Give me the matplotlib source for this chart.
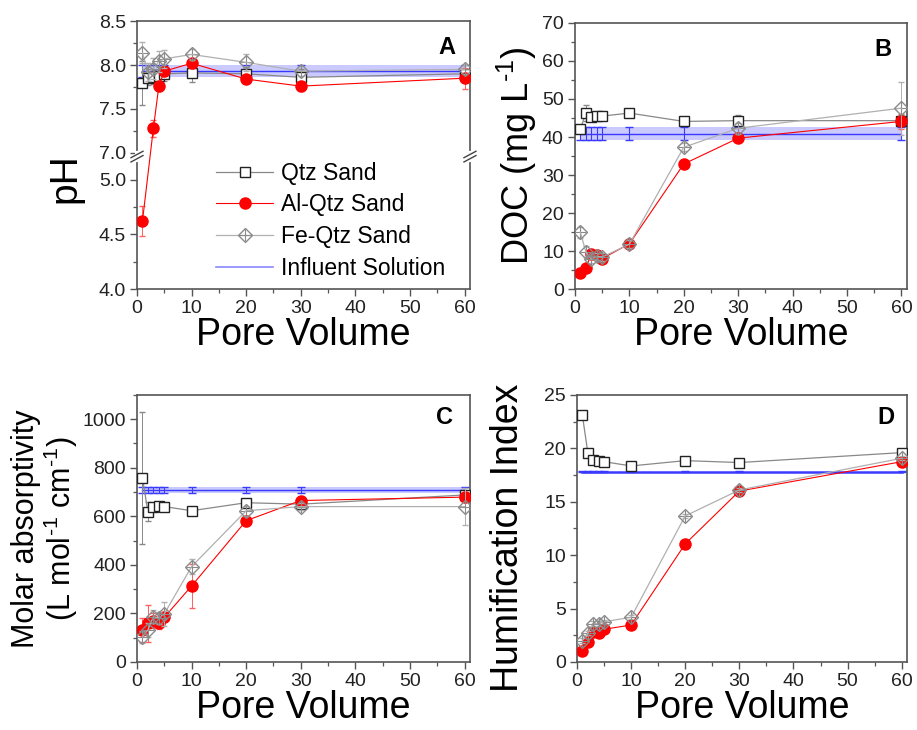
import matplotlib
matplotlib.use("Agg")
import matplotlib.pyplot as plt
import numpy as np
from matplotlib.lines import Line2D
from matplotlib.ticker import MultipleLocator, FixedLocator, FormatStrFormatter

plt.rcParams.update({
    "font.family": ["Liberation Sans", "DejaVu Sans"],
    "mathtext.fontset": "custom",
    "mathtext.rm": "Liberation Sans",
    "mathtext.it": "Liberation Sans",
    "axes.edgecolor": "#555555",
    "axes.linewidth": 1.2,
    "xtick.direction": "out",
    "ytick.direction": "out",
    "xtick.color": "#555555",
    "ytick.color": "#555555",
    "xtick.labelcolor": "#222222",
    "ytick.labelcolor": "#222222",
})

# pore volumes sampled
pv = [1, 2, 3, 4, 5, 10, 20, 30, 60]
pv_al_ph = [1, 3, 4, 5, 10, 20, 30, 60]

# A: pH
ph_qtz = [7.79, 7.85, 7.86, 7.88, 7.90, 7.91, 7.90, 7.86, 7.90]
ph_qtz_err = [0.25, 0.08, 0.08, 0.10, 0.08, 0.10, 0.08, 0.10, 0.06]
ph_al = [4.62, 7.28, 7.76, 7.93, 8.02, 7.84, 7.76, 7.85]
ph_al_err = [0.14, 0.10, 0.05, 0.05, 0.05, 0.05, 0.05, 0.12]
ph_fe = [8.14, 7.92, 7.96, 8.04, 8.07, 8.12, 8.03, 7.93, 7.95]
ph_fe_err = [0.12, 0.10, 0.12, 0.12, 0.10, 0.06, 0.10, 0.06, 0.05]
ph_inf, ph_inf_err = 7.93, 0.07

# B: DOC (mg/L)
doc_qtz = [42.1, 46.3, 45.2, 45.4, 45.5, 46.3, 44.1, 44.3, 44.3]
doc_qtz_err = [1.0, 2.2, 1.0, 1.0, 0.8, 0.8, 0.8, 1.5, 1.5]
doc_al = [4.3, 5.4, 9.3, 8.9, 8.0, 11.9, 32.9, 39.7, 44.1]
doc_al_err = [1.2, 0.8, 0.8, 0.8, 0.8, 0.8, 0.8, 0.8, 2.0]
doc_fe = [14.9, 9.8, 7.8, 8.6, 8.4, 11.8, 37.3, 42.3, 47.6]
doc_fe_err = [1.5, 1.5, 1.0, 1.0, 1.0, 1.0, 1.0, 1.5, 7.0]
doc_inf, doc_inf_err = 40.8, 1.7

# C: molar absorptivity
ma_qtz = [757, 619, 640, 641, 640, 623, 656, 650, 688]
ma_qtz_err = [272, 40, 15, 15, 15, 15, 15, 15, 15]
ma_al = [133, 159, 170, 159, 184, 313, 582, 665, 679]
ma_al_err = [50, 75, 30, 25, 20, 90, 20, 15, 20]
ma_fe = [104, 132, 187, 182, 198, 393, 623, 640, 640]
ma_fe_err = [25, 30, 25, 25, 50, 30, 20, 15, 75]
ma_inf, ma_inf_err = 710, 12

# D: humification index
hix_qtz = [23.1, 19.6, 18.9, 18.8, 18.75, 18.35, 18.85, 18.67, 19.6]
hix_al = [1.06, 1.9, 2.84, 2.69, 3.06, 3.46, 11.05, 16.0, 18.75]
hix_fe = [2.0, 2.7, 3.6, 3.6, 3.77, 4.18, 13.67, 16.1, 19.07]
hix_err = [0.2, 0.2, 0.2, 0.2, 0.2, 0.2, 0.2, 0.2, 0.2]
hix_inf, hix_inf_err = 17.82, 0.05

QTZ_M, QTZ_L = "#222222", "#888888"
AL_C = "#ff0000"
FE_M, FE_L = "#8a8a8a", "#b0b0b0"
INF_C, INF_BAND = "#3a3aff", "#b4b4ff"

fig = plt.figure(figsize=(9.17, 7.3), dpi=100)
axA = fig.add_axes([0.1494, 0.6041, 0.3631, 0.3671])
axB = fig.add_axes([0.6270, 0.6041, 0.3620, 0.3644])
axC = fig.add_axes([0.1494, 0.0932, 0.3631, 0.3658])
axD = fig.add_axes([0.6292, 0.0932, 0.3600, 0.3658])

# broken pH axis as a piecewise linear scale
yd = [4.0, 5.2, 6.97, 8.5]
yf = [0.0, 131.4, 133.4, 268.0]
axA.set_yscale("function", functions=(lambda y: np.interp(y, yd, yf),
                                       lambda f: np.interp(f, yf, yd)))


def draw(ax, q, qe, a, ae, f, fe, inf, infe, xa=pv, band=True, inf_lw=1.0):
    if band:
        ax.fill_between([1, 60], inf - infe, inf + infe, color=INF_BAND,
                        alpha=0.7, lw=0, zorder=1)
    ax.errorbar(pv, [inf] * len(pv), yerr=infe, color=INF_C, lw=inf_lw,
                elinewidth=0.8, capsize=3, zorder=2)
    ax.errorbar(pv, q, yerr=qe, color=QTZ_L, lw=0.9, marker="s", ms=7,
                mfc="white", mec=QTZ_M, mew=1.0, ecolor=QTZ_L,
                elinewidth=0.7, capsize=2.5, zorder=3)
    ax.errorbar(xa, a, yerr=ae, color=AL_C, lw=0.8, marker="o", ms=8,
                mfc=AL_C, mec=AL_C, ecolor="#ff6060",
                elinewidth=0.7, capsize=2.5, zorder=4)
    ax.errorbar(pv, f, yerr=fe, color=FE_L, lw=0.9, marker="D", ms=7,
                mfc="none", mec=FE_M, mew=1.0, ecolor=FE_L,
                elinewidth=0.7, capsize=2.5, zorder=5)
    ax.plot(pv, f, ls="none", marker="+", ms=9, mec=FE_M, mew=0.8, zorder=5)


draw(axA, ph_qtz, ph_qtz_err, ph_al, ph_al_err, ph_fe, ph_fe_err,
     ph_inf, ph_inf_err, xa=pv_al_ph)
draw(axB, doc_qtz, doc_qtz_err, doc_al, doc_al_err, doc_fe, doc_fe_err,
     doc_inf, doc_inf_err)
draw(axC, ma_qtz, ma_qtz_err, ma_al, ma_al_err, ma_fe, ma_fe_err,
     ma_inf, ma_inf_err)
draw(axD, hix_qtz, hix_err, hix_al, hix_err, hix_fe, hix_err,
     hix_inf, hix_inf_err, band=False, inf_lw=1.8)

for ax in (axA, axB, axC, axD):
    ax.set_xlim(0, 61)
    ax.xaxis.set_major_locator(MultipleLocator(10))
    ax.xaxis.set_minor_locator(MultipleLocator(5))
    ax.tick_params(which="major", length=5, width=1.0, labelsize=14, pad=3)
    ax.tick_params(which="minor", length=3, width=0.9)
    ax.set_xlabel("Pore Volume", fontsize=27, labelpad=0)

axA.set_ylim(4.0, 8.5)
axA.yaxis.set_major_locator(FixedLocator([4.0, 4.5, 5.0, 7.0, 7.5, 8.0, 8.5]))
axA.yaxis.set_minor_locator(FixedLocator([4.25, 4.75, 7.25, 7.75, 8.25]))
axA.yaxis.set_major_formatter(FormatStrFormatter("%.1f"))
axA.set_ylabel("pH", fontsize=28)
axA.yaxis.set_label_coords(-0.16, 0.414)

# break marks on both spines
fb = 132.4 / 268.0
for xs in (0.0, 1.0):
    axA.plot([xs, xs], [fb - 0.012, fb + 0.012], color="white", lw=3,
             transform=axA.transAxes, clip_on=False, zorder=10)
    for dy in (-0.008, 0.008):
        axA.plot([xs - 0.018, xs + 0.018], [fb + dy - 0.012, fb + dy + 0.012],
                 color="#444444", lw=1.0, transform=axA.transAxes,
                 clip_on=False, zorder=11)

axB.set_ylim(0, 70)
axB.yaxis.set_major_locator(MultipleLocator(10))
axB.yaxis.set_minor_locator(MultipleLocator(5))
axB.set_ylabel(r"DOC (mg L$^{\text{-}1}$)", fontsize=26, labelpad=2)

axC.set_ylim(0, 1100)
axC.yaxis.set_major_locator(MultipleLocator(200))
axC.yaxis.set_minor_locator(MultipleLocator(100))
axC.set_ylabel("Molar absorptivity\n" r"(L mol$^{\text{-}1}$ cm$^{\text{-}1}$)",
               fontsize=22, labelpad=2, linespacing=1.0)

axD.set_ylim(0, 25)
axD.yaxis.set_major_locator(MultipleLocator(5))
axD.yaxis.set_minor_locator(MultipleLocator(2.5))
axD.set_ylabel("Humification Index", fontsize=27)
axD.yaxis.set_label_coords(-0.155, 0.466)

for ax, lab, xy in ((axA, "A", (0.93, 0.90)), (axB, "B", (0.927, 0.90)),
                    (axC, "C", (0.925, 0.917)), (axD, "D", (0.936, 0.917))):
    ax.text(xy[0], xy[1], lab, transform=ax.transAxes, fontsize=17,
            fontweight="bold", ha="center", va="center")

h_qtz = Line2D([], [], color=QTZ_L, lw=0.9, marker="s", ms=7, mfc="white",
               mec=QTZ_M, mew=1.0)
h_al = Line2D([], [], color=AL_C, lw=0.8, marker="o", ms=8, mfc=AL_C, mec=AL_C)
h_fe = (Line2D([], [], color=FE_L, lw=0.9, marker="D", ms=7, mfc="none",
               mec=FE_M, mew=1.0),
        Line2D([], [], ls="none", marker="+", ms=9, mec=FE_M, mew=0.8))
h_inf = Line2D([], [], color="#8888ff", lw=1.2)
axA.legend([h_qtz, h_al, h_fe, h_inf],
           ["Qtz Sand", "Al-Qtz Sand", "Fe-Qtz Sand", "Influent Solution"],
           loc="upper left", bbox_to_anchor=(0.237, 0.475), frameon=False,
           fontsize=16.5, handlelength=2.5, handletextpad=0.35,
           labelspacing=0.38, borderpad=0, borderaxespad=0)

fig.savefig("out.png", dpi=100)
